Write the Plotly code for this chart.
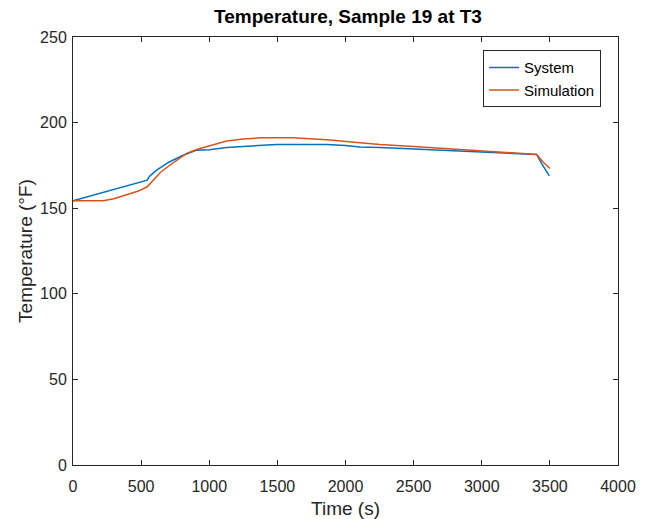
import plotly.graph_objects as go

# ---- data ----
system_time = [0, 100, 200, 300, 400, 500, 545, 560, 614, 700, 800, 908, 1000, 1128, 1300,
               1495, 1700, 1862, 2000, 2106, 2253, 2500, 2865, 3100, 3403, 3440, 3496]
system_temp = [154.3, 156.5, 158.7, 160.9, 163.1, 165.3, 166.4, 168.5, 172.2, 176.7, 180.6,
               183.9, 184.2, 185.5, 186.4, 187.2, 187.2, 187.2, 186.6, 185.8, 185.5, 184.7,
               183.5, 182.7, 181.4, 176.0, 168.9]

sim_time = [0, 100, 180, 222, 300, 394, 480, 545, 580, 639, 700, 834, 908, 1000, 1128, 1250,
            1373, 1617, 1862, 1886, 2106, 2253, 2500, 2865, 3100, 3403, 3450, 3480, 3501]
sim_temp = [154.3, 154.2, 154.2, 154.4, 155.5, 157.7, 160.0, 162.5, 165.5, 170.7, 174.5, 182.0,
            184.3, 186.5, 189.3, 190.4, 191.1, 191.1, 190.2, 189.9, 188.2, 187.2, 186.0,
            184.3, 183.2, 181.4, 177.0, 174.5, 173.2]

x_ticks = [0, 500, 1000, 1500, 2000, 2500, 3000, 3500, 4000]
y_ticks = [0, 50, 100, 150, 200, 250]

title_text = "Temperature, Sample 19 at T3"
x_label = "Time (s)"
y_label = "Temperature (°F)"

TXT = "#262626"
FONT = "Liberation Sans, Arial, sans-serif"

W, H = 648, 519

fig = go.Figure()
fig.add_trace(go.Scatter(x=system_time, y=system_temp, mode="lines", name="System",
                         line=dict(color="#0072BD", width=1.5)))
fig.add_trace(go.Scatter(x=sim_time, y=sim_temp, mode="lines", name="Simulation",
                         line=dict(color="#D95319", width=1.5)))

axis_common = dict(showline=True, linecolor=TXT, linewidth=1, mirror="ticks",
                   ticks="inside", ticklen=5, tickwidth=1, tickcolor=TXT,
                   showgrid=False, zeroline=False, automargin=False,
                   tickfont=dict(family=FONT, size=16, color=TXT))

fig.update_layout(
    width=W, height=H,
    margin=dict(l=73, r=30, t=37, b=54, autoexpand=False),
    paper_bgcolor="white", plot_bgcolor="white",
    font=dict(family=FONT, color=TXT),
    title=dict(text="<b>" + title_text + "</b>", x=348 / W, xanchor="center",
               y=1 - 16 / H, yref="container", yanchor="middle", automargin=False,
               font=dict(family=FONT, size=19, color="#000000")),
    xaxis=dict(range=[0, 4000], tickvals=x_ticks, ticklabelstandoff=7,
               title=dict(text=x_label, font=dict(family=FONT, size=19, color=TXT), standoff=11),
               **axis_common),
    yaxis=dict(range=[0, 250], tickvals=y_ticks, ticklabelstandoff=2,
               title=dict(text=y_label, font=dict(family=FONT, size=19, color=TXT), standoff=2),
               **axis_common),
    legend=dict(x=0.969, xanchor="right", y=0.969, yanchor="top",
                bgcolor="white", bordercolor=TXT, borderwidth=1,
                font=dict(family=FONT, size=15, color="#000000")),
    showlegend=True,
)

# remove the default 8px page margin so the figure fills the window exactly
fig.write_html("out.html", config={"displayModeBar": False},
               post_script="document.body.style.margin='0px';")
